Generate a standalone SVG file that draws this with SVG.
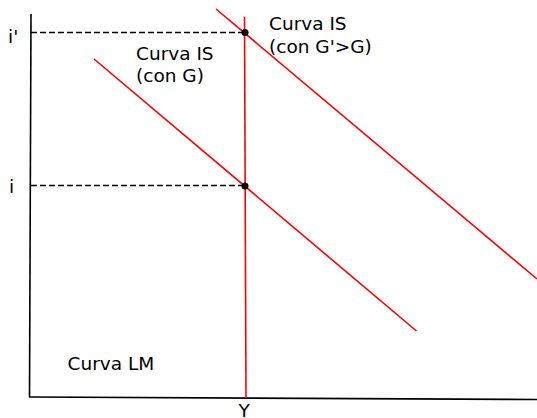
<svg xmlns="http://www.w3.org/2000/svg" width="537" height="418" viewBox="0 0 537 418">
<style>
text{font-family:"DejaVu Sans",Verdana,sans-serif;font-size:18.5px;fill:#000}
.ax{stroke:#000;stroke-width:1.6;fill:none}
.red{stroke:#f00;stroke-width:1.6;fill:none}
.dash{stroke:#000;stroke-width:1.4;stroke-dasharray:6 3;fill:none}
.dot{fill:#000}
</style>
<rect width="537" height="418" fill="#fff"/>
<g id="axes">
<line class="ax" x1="31" y1="14" x2="29.5" y2="397"/>
<line class="ax" x1="29" y1="397" x2="537" y2="399.5"/>
</g>
<g id="connectors">
<line class="dash" x1="31" y1="32.5" x2="245" y2="32.5"/>
<line class="dash" x1="31" y1="185.5" x2="245" y2="185.5"/>
</g>
<g id="lm">
<line class="red" x1="244.5" y1="17" x2="246" y2="398"/>
<text x="67.5" y="370">Curva LM</text>
</g>
<g id="is-g">
<line class="red" x1="94" y1="59" x2="416.5" y2="331"/>
<text x="136" y="60">Curva IS</text>
<text x="136" y="82">(con G)</text>
</g>
<g id="is-g2">
<line class="red" x1="216" y1="9" x2="537" y2="279"/>
<text x="269" y="30">Curva IS</text>
<text x="269" y="53">(con G'&gt;G)</text>
</g>
<g id="points">
<circle class="dot" cx="245" cy="32.5" r="3.5"/>
<circle class="dot" cx="245" cy="186" r="3.5"/>
</g>
<g id="labels">
<text x="8" y="43">i'</text>
<text x="9" y="193">i</text>
<text x="238.5" y="417">Y</text>
</g>
</svg>
